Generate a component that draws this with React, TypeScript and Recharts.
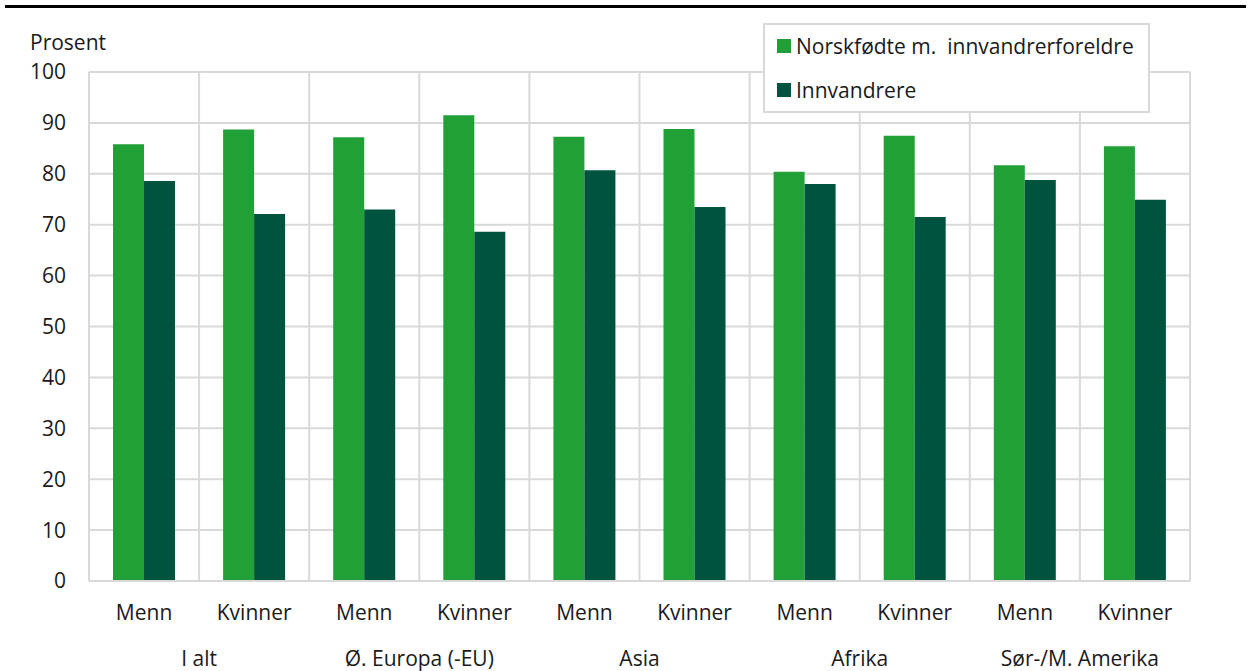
import React from 'react';
import { BarChart, Bar, XAxis, YAxis, CartesianGrid, Legend } from 'recharts';

const groups = ['I alt', 'Ø. Europa (-EU)', 'Asia', 'Afrika', 'Sør-/M. Amerika'];
const sexes = ['Menn', 'Kvinner'];
const norskfodte = [85.8, 88.7, 87.2, 91.5, 87.3, 88.8, 80.4, 87.5, 81.7, 85.4];
const innvandrere = [78.6, 72.1, 73.0, 68.6, 80.7, 73.5, 78.0, 71.5, 78.8, 74.9];
const yTicks = [0, 10, 20, 30, 40, 50, 60, 70, 80, 90, 100];

const seriesNames = ['Norskfødte m.  innvandrerforeldre', 'Innvandrere'];
const colors = ['#21a038', '#00543f'];

const data = norskfodte.map((v, i) => ({
  key: `${groups[Math.floor(i / 2)]}-${sexes[i % 2]}`,
  sex: sexes[i % 2],
  group: groups[Math.floor(i / 2)],
  a: v,
  b: innvandrere[i],
}));

const FONT = '"Open Sans", sans-serif';
const GRID = '#d9d9d9';
const FS = 21;
const TXT = '#1a1a1a';

const LegendBox = () => (
  <div
    style={{
      boxSizing: 'border-box',
      width: 387,
      height: 90,
      border: `2px solid ${GRID}`,
      background: '#fff',
      fontFamily: FONT,
      fontSize: FS,
      color: TXT,
      paddingLeft: 12,
      paddingTop: 2,
    }}
  >
    {seriesNames.map((n, i) => (
      <div key={n} style={{ display: 'flex', alignItems: 'center', height: 38, marginBottom: i === 0 ? 6 : 0 }}>
        <span style={{ display: 'inline-block', width: 14, height: 14, background: colors[i], marginRight: 5 }} />
        <span style={{ whiteSpace: 'pre' }}>{n}</span>
      </div>
    ))}
  </div>
);

const SexTick = (props: any) => {
  const { x, y, payload } = props;
  return (
    <text x={x} y={y} dy="0.71em" textAnchor="middle" fontFamily={FONT} fontSize={FS} fill={TXT}>
      {data[payload.index] ? data[payload.index].sex : payload.value}
    </text>
  );
};

export default function App() {
  const N = data.length;
  return (
    <div style={{ position: 'fixed', left: 0, top: 0, width: 1249, height: 671, background: '#fff', overflow: 'hidden' }}>
      <div style={{ position: 'absolute', left: 5, top: 5, width: 1241, height: 3, background: '#000' }} />
      <div
        style={{
          position: 'absolute',
          left: 30,
          top: 28,
          fontFamily: FONT,
          fontSize: FS,
          color: TXT,
        }}
      >
        Prosent
      </div>
      <BarChart
        width={1249}
        height={671}
        data={data}
        margin={{ top: 72, right: 59, left: 29, bottom: 0 }}
        barGap={0}
        barSize={31}
      >
        <CartesianGrid
          stroke={GRID}
          strokeWidth={2}
          verticalCoordinatesGenerator={({ offset }: any) =>
            Array.from({ length: N + 1 }, (_, i) => offset.left + (i * offset.width) / N)
          }
        />
        <XAxis
          xAxisId="a"
          dataKey="key"
          tick={<SexTick />}
          tickLine={false}
          axisLine={{ stroke: GRID, strokeWidth: 2 }}
          tickSize={0}
          tickMargin={24}
          height={50}
          interval={0}
        />
        <XAxis
          xAxisId="b"
          dataKey="group"
          allowDuplicatedCategory={false}
          tickLine={false}
          axisLine={false}
          tickSize={0}
          tickMargin={20}
          height={40}
          interval={0}
          tick={{ fontFamily: FONT, fontSize: FS, fill: TXT }}
        />
        <YAxis
          domain={[0, 100]}
          ticks={yTicks}
          width={60}
          axisLine={false}
          tickLine={false}
          tickSize={0}
          tickMargin={23}
          interval={0}
          tick={{ fontFamily: FONT, fontSize: FS, fill: TXT }}
        />
        <Legend
          layout="horizontal"
          verticalAlign="middle"
          align="center"
          wrapperStyle={{ top: 23, left: 763, width: 387, height: 90 }}
          content={<LegendBox />}
        />
        <Bar xAxisId="a" dataKey="a" name={seriesNames[0]} fill={colors[0]} isAnimationActive={false} />
        <Bar xAxisId="a" dataKey="b" name={seriesNames[1]} fill={colors[1]} isAnimationActive={false} />
      </BarChart>
    </div>
  );
}
